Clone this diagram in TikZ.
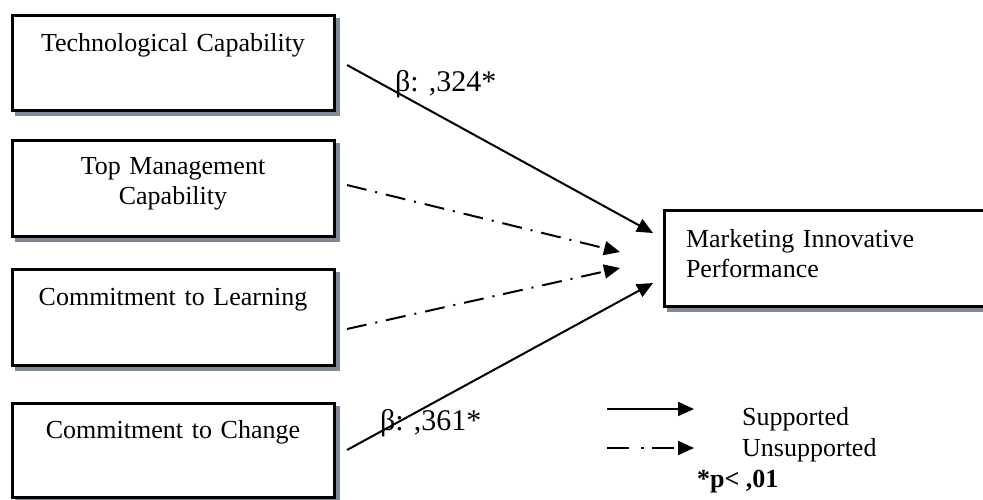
\documentclass[tikz,border=0pt]{standalone}
\usepackage{fontspec}
\setmainfont{Liberation Serif}
\usetikzlibrary{arrows.meta,shadows}
\definecolor{shadowgray}{RGB}{128,138,150}
\begin{document}
\begin{tikzpicture}[x=1pt,y=-1pt,
  box/.style={draw=black, line width=3pt, fill=white, inner sep=0pt, outer sep=0pt,
    anchor=north west, minimum width=322pt, text width=322pt, align=center,
    font=\fontsize{26}{30}\selectfont,
    drop shadow={shadow xshift=4pt, shadow yshift=-4pt, fill=shadowgray,
      draw=shadowgray, opacity=1}},
  supp/.style={line width=2pt, -{Triangle[length=16pt,width=14pt]}},
  unsupp/.style={supp, dash pattern=on 20pt off 9pt on 2pt off 9pt},
  legdash/.style={supp, dash pattern=on 22pt off 12pt on 3pt off 8pt},
  coef/.style={inner sep=0pt, anchor=base west, font=\fontsize{30}{34}\selectfont},
  legtext/.style={inner sep=0pt, anchor=base west, font=\fontsize{26}{30}\selectfont}
]
\useasboundingbox (0,0) rectangle (983,500);

% predictor constructs
\node[box, text height=36pt, text depth=59pt] (tc) at (12,16) {Technological Capability};
\node[box, text height=34pt, text depth=61pt] (tm) at (12,141) {Top Management\\Capability};
\node[box, text height=36pt, text depth=60pt] (cl) at (12,269) {Commitment to Learning};
\node[box, text height=35pt, text depth=59pt] (cc) at (12,403) {Commitment to Change};

% outcome construct
\node[box, align=left, text width=300pt, minimum width=344pt, inner xsep=22pt,
  text height=37pt, text depth=59pt] (mip) at (664,210) {Marketing Innovative\\Performance};

% path end points
\coordinate (s1) at (347,65);
\coordinate (e1) at (653,233);
\coordinate (s2) at (347,185);
\coordinate (e2) at (620,252);
\coordinate (s3) at (347,329);
\coordinate (e3) at (620,268);
\coordinate (s4) at (347,450);
\coordinate (e4) at (653,283);

\draw[supp] (s1) -- (e1);
\draw[unsupp] (s2) -- (e2);
\draw[unsupp] (s3) -- (e3);
\draw[supp] (s4) -- (e4);

% path coefficients
\node[coef] (b1) at (395,92) {β: ,324*};
\node[coef] (b4) at (380,430) {β: ,361*};

% legend
\coordinate (la) at (607,409);
\coordinate (lb) at (694,409);
\coordinate (lc) at (607,448);
\coordinate (ld) at (694,448);
\draw[supp] (la) -- (lb);
\draw[legdash] (lc) -- (ld);
\node[legtext] (ls) at (742,425) {Supported};
\node[legtext] (lu) at (742,456) {Unsupported};
\node[legtext] (lp) at (697,487) {\textbf{*p< ,01}};
\end{tikzpicture}
\end{document}
